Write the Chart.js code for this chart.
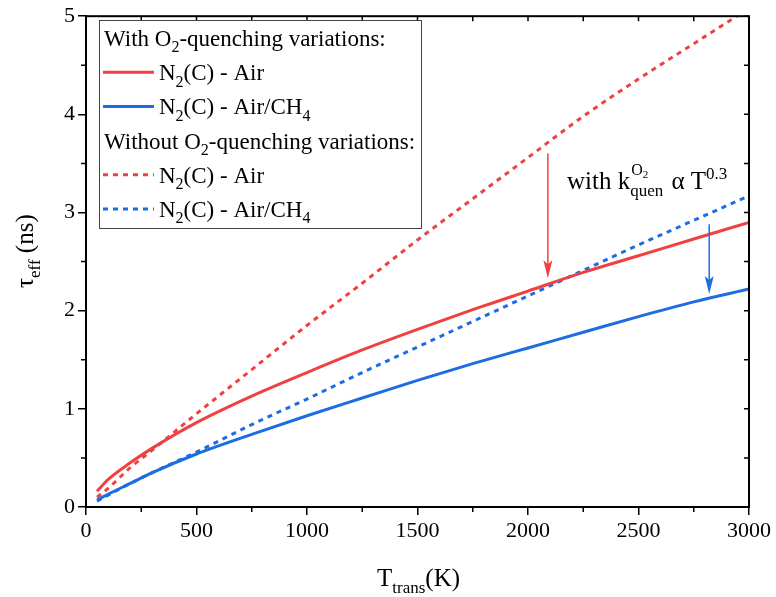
<!DOCTYPE html>
<html>
<head>
<meta charset="utf-8">
<script src="https://cdn.jsdelivr.net/npm/chart.js@4.4.0/dist/chart.umd.min.js"></script>
<style>
  html, body { margin: 0; padding: 0; background: #fff; }
  #wrap { width: 776px; height: 597px; }
</style>
</head>
<body>
<div id="wrap"><canvas id="chart" width="776" height="597"></canvas></div>
<script>
// temperatures (K) and effective lifetimes (ns)
const temps = [50, 100, 200, 300, 500, 750, 1000, 1250, 1500, 1750, 2000, 2250, 2500, 2750, 3000];
const airWithO2 = [0.16, 0.28, 0.45, 0.60, 0.86, 1.13, 1.37, 1.60, 1.81, 2.01, 2.20, 2.39, 2.56, 2.73, 2.90];
const ch4WithO2 = [0.07, 0.13, 0.24, 0.35, 0.54, 0.74, 0.93, 1.11, 1.29, 1.46, 1.62, 1.78, 1.94, 2.09, 2.22];
const airNoO2 = [0.10, 0.19, 0.40, 0.58, 0.95, 1.40, 1.85, 2.28, 2.72, 3.14, 3.56, 3.98, 4.36, 4.72, 5.08];
const ch4NoO2 = [0.06, 0.12, 0.24, 0.35, 0.56, 0.84, 1.10, 1.37, 1.63, 1.89, 2.15, 2.41, 2.67, 2.92, 3.17];

const xTicks = [0, 500, 1000, 1500, 2000, 2500, 3000];
const yTicks = [0, 1, 2, 3, 4, 5];

const legendHeaders = ['With O_{2}-quenching variations:', 'Without O_{2}-quenching variations:'];
const seriesLabels = ['N_{2}(C) - Air', 'N_{2}(C) - Air/CH_{4}', 'N_{2}(C) - Air', 'N_{2}(C) - Air/CH_{4}'];

// arrows: [T, from y, to y]
const redArrow = [2090, 3.6, 2.33];
const blueArrow = [2820, 2.88, 2.17];

const RED = 'rgb(240,64,64)';
const BLUE = 'rgb(28,108,226)';
const FONT = '"Liberation Serif", "Times New Roman", serif';

const pts = (vals) => temps.map((t, i) => ({ x: t, y: vals[i] }));

// draws text with _{sub} and ^{sup} parts, returns end x
function drawRich(ctx, str, x, y, size) {
  const re = /(_\{[^}]*\}|\^\{[^}]*\})/;
  const parts = str.split(re).filter(p => p.length);
  ctx.textBaseline = 'alphabetic';
  ctx.textAlign = 'left';
  for (const p of parts) {
    if (p.startsWith('_{')) {
      const s = p.slice(2, -1);
      ctx.font = Math.round(size * 0.68) + 'px ' + FONT;
      ctx.fillText(s, x, y + size * 0.28);
      x += ctx.measureText(s).width;
    } else if (p.startsWith('^{')) {
      const s = p.slice(2, -1);
      ctx.font = Math.round(size * 0.68) + 'px ' + FONT;
      ctx.fillText(s, x, y - size * 0.42);
      x += ctx.measureText(s).width;
    } else {
      ctx.font = size + 'px ' + FONT;
      ctx.fillText(p, x, y);
      x += ctx.measureText(p).width;
    }
  }
  return x;
}

function arrow(ctx, xs, ys, a, color) {
  const x = xs.getPixelForValue(a[0]);
  const y0 = ys.getPixelForValue(a[1]);
  const y1 = ys.getPixelForValue(a[2]);
  ctx.strokeStyle = color;
  ctx.fillStyle = color;
  ctx.lineWidth = 1.5;
  ctx.setLineDash([]);
  ctx.beginPath();
  ctx.moveTo(x, y0);
  ctx.lineTo(x, y1 - 12);
  ctx.stroke();
  ctx.beginPath();
  ctx.moveTo(x, y1);
  ctx.lineTo(x - 4.5, y1 - 18);
  ctx.lineTo(x, y1 - 14);
  ctx.lineTo(x + 4.5, y1 - 18);
  ctx.closePath();
  ctx.fill();
}

const decor = {
  id: 'decor',
  afterDraw(chart) {
    const ctx = chart.ctx;
    const a = chart.chartArea;
    const xs = chart.scales.x, ys = chart.scales.y;
    ctx.save();
    ctx.strokeStyle = '#000';
    ctx.fillStyle = '#000';

    // frame
    ctx.lineWidth = 2;
    ctx.strokeRect(a.left, a.top, a.right - a.left, a.bottom - a.top);

    // minor outward ticks and inward mirror ticks
    ctx.lineWidth = 1.5;
    ctx.beginPath();
    for (let t = 0; t <= 3000; t += 250) {
      const px = xs.getPixelForValue(t);
      if (t % 500 !== 0) { ctx.moveTo(px, a.bottom); ctx.lineTo(px, a.bottom + 5); }
      ctx.moveTo(px, a.top); ctx.lineTo(px, a.top + 5);
    }
    for (let v = 0; v <= 5; v += 0.5) {
      const py = ys.getPixelForValue(v);
      if (v % 1 !== 0) { ctx.moveTo(a.left, py); ctx.lineTo(a.left - 5, py); }
      ctx.moveTo(a.right, py); ctx.lineTo(a.right - 5, py);
    }
    ctx.stroke();

    // axis titles
    ctx.save();
    ctx.translate(33, 288);
    ctx.rotate(-Math.PI / 2);
    ctx.fillStyle = '#000';
    drawRich(ctx, '\u03c4_{eff} (ns)', 0, 0, 25);
    ctx.restore();
    drawRich(ctx, 'T_{trans}(K)', 377, 586, 25);

    // legend
    const L = { x: 99.5, y: 20.5, w: 322, h: 208 };
    ctx.fillStyle = '#fff';
    ctx.fillRect(L.x, L.y, L.w, L.h);
    ctx.strokeStyle = '#444';
    ctx.lineWidth = 1;
    ctx.strokeRect(L.x, L.y, L.w, L.h);
    ctx.fillStyle = '#000';
    const rows = [
      { head: legendHeaders[0] },
      { ds: 0 }, { ds: 1 },
      { head: legendHeaders[1] },
      { ds: 2 }, { ds: 3 }
    ];
    rows.forEach((r, i) => {
      const cy = 38 + i * 34.2;
      const base = cy + 8;
      if (r.head) {
        drawRich(ctx, r.head, 104, base, 23);
      } else {
        const d = chart.data.datasets[r.ds];
        ctx.strokeStyle = d.borderColor;
        ctx.lineWidth = 3;
        ctx.setLineDash(d.borderDash || []);
        ctx.beginPath();
        ctx.moveTo(103, cy); ctx.lineTo(154, cy);
        ctx.stroke();
        ctx.setLineDash([]);
        ctx.fillStyle = '#000';
        drawRich(ctx, seriesLabels[r.ds], 159, base, 23);
      }
    });

    // arrows and note
    arrow(ctx, xs, ys, redArrow, RED);
    arrow(ctx, xs, ys, blueArrow, BLUE);
    ctx.fillStyle = '#000';
    let nx = drawRich(ctx, 'with k', 567, 189, 25);
    ctx.font = '16px ' + FONT;
    ctx.fillText('O', nx + 1, 175);
    const ow = ctx.measureText('O').width;
    ctx.font = '11px ' + FONT;
    ctx.fillText('2', nx + 1 + ow, 178);
    ctx.font = '17px ' + FONT;
    ctx.fillText('quen', nx, 196);
    nx += ctx.measureText('quen').width + 2;
    drawRich(ctx, ' \u03b1 T^{0.3}', nx, 189, 25);

    ctx.restore();
  }
};

const canvas = document.getElementById('chart').getContext('2d');
new Chart(canvas, {
  type: 'line',
  data: {
    datasets: [
      { label: seriesLabels[0], data: pts(airWithO2), borderColor: RED, borderWidth: 3 },
      { label: seriesLabels[1], data: pts(ch4WithO2), borderColor: BLUE, borderWidth: 3 },
      { label: seriesLabels[2], data: pts(airNoO2), borderColor: RED, borderWidth: 3, borderDash: [5, 5] },
      { label: seriesLabels[3], data: pts(ch4NoO2), borderColor: BLUE, borderWidth: 3, borderDash: [5, 5] }
    ]
  },
  options: {
    responsive: false,
    animation: false,
    layout: { padding: { top: 13, right: 27, left: 0, bottom: 0 } },
    elements: { point: { radius: 0 }, line: { cubicInterpolationMode: 'monotone', fill: false } },
    plugins: { legend: { display: false }, tooltip: { enabled: false } },
    scales: {
      x: {
        type: 'linear', min: 0, max: 3000,
        afterBuildTicks: (s) => { s.ticks = xTicks.map(v => ({ value: v })); },
        afterFit: (s) => { s.height = 90; },
        ticks: { color: '#000', font: { family: FONT, size: 22 }, padding: 3, maxRotation: 0, callback: (v) => String(v) },
        grid: { drawOnChartArea: false, color: '#000', lineWidth: 1.5, tickLength: 8 },
        border: { color: '#000', width: 2 }
      },
      y: {
        min: 0, max: 5,
        afterBuildTicks: (s) => { s.ticks = yTicks.map(v => ({ value: v })); },
        afterFit: (s) => { s.width = 86; },
        ticks: { color: '#000', font: { family: FONT, size: 22 }, padding: 3, callback: (v) => String(v) },
        grid: { drawOnChartArea: false, color: '#000', lineWidth: 1.5, tickLength: 8 },
        border: { color: '#000', width: 2 }
      }
    }
  },
  plugins: [decor]
});
</script>
</body>
</html>
